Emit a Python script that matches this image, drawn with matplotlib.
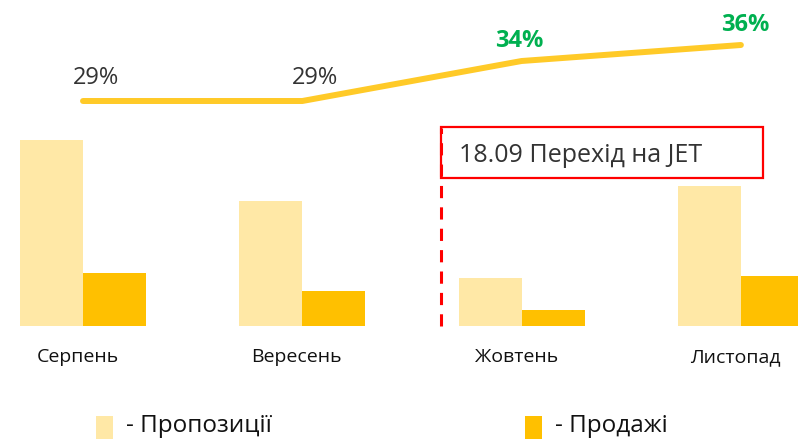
import matplotlib
matplotlib.use("Agg")
import matplotlib.pyplot as plt
from matplotlib.patches import Rectangle
import numpy as np

plt.rcParams['font.family'] = ['Open Sans', 'DejaVu Sans']

categories = ["Серпень", "Вересень", "Жовтень", "Листопад"]
proposals = [186, 125, 48, 140]
sales = [53, 35, 16, 50]
conversion = [29, 29, 34, 36]
conv_labels = ["29%", "29%", "34%", "36%"]
conv_colors = ["#333333", "#333333", "#00B050", "#00B050"]
conv_bold = [False, False, True, True]
legend_labels = ["- Пропозиції", "- Продажі"]
annotation = "18.09 Перехід на JET"

W, H = 798, 440
fig = plt.figure(figsize=(W / 100, H / 100), dpi=100)

base_px = 326  # baseline from top
ax = fig.add_axes([0, (H - base_px) / H, 1, base_px / H])
spacing = 219.3
c0 = 83
ax.set_xlim(-c0 / spacing, (W - c0) / spacing)
ax.set_ylim(0, base_px)
x = np.arange(len(categories))
bw = 63 / spacing
ax.bar(x - bw / 2, proposals, width=bw, color="#FFE8A6", linewidth=0)
ax.bar(x + bw / 2, sales, width=bw, color="#FFC000", linewidth=0)
for s in ax.spines.values():
    s.set_visible(False)
ax.set_yticks([])
ax.set_xticks(x - 0.025)
ax.set_xticklabels(categories, fontsize=14, color="#111111")
ax.tick_params(axis='x', length=0, pad=16)

ax2 = ax.twinx()
ax2.set_ylim(29 - 225 / 8, 29 + 101 / 8)
ax2.plot(x, conversion, color="#FFCA28", lw=4.3, solid_capstyle="round",
         solid_joinstyle="round")
ax2.set_yticks([])
for s in ax2.spines.values():
    s.set_visible(False)
offsets = [(9, 8), (9, 8), (-2, 5.5), (3, 5.5)]
for xi, v, lab, col, b, off in zip(x, conversion, conv_labels, conv_colors, conv_bold, offsets):
    ax2.annotate(lab, (xi, v), xytext=off, textcoords="offset points",
                 ha="center", va="bottom", fontsize=17,
                 color=col, fontweight="bold" if b else "normal")

# annotation: dashed red line and box
xi_line = (441 - c0) / spacing
ax.plot([xi_line, xi_line], [0, base_px - 128], color="#FF0000", lw=2.2,
        ls=(0, (4, 3)), clip_on=False)
fig.patches.append(Rectangle((441 / W, 1 - 178 / H), (763 - 441) / W, 51 / H,
                             transform=fig.transFigure, fill=False,
                             edgecolor="#FF0000", lw=1.6))
fig.text(459 / W, 1 - 155 / H, annotation, fontsize=18, color="#333333",
         ha="left", va="center")

# legend
legend_colors = ["#FFE8A6", "#FFC000"]
legend_x = [96, 525]
for lx, lc, lt in zip(legend_x, legend_colors, legend_labels):
    fig.patches.append(Rectangle((lx / W, 1 - 439 / H), 17 / W, 23 / H,
                                 transform=fig.transFigure, color=lc, lw=0))
    fig.text((lx + 30) / W, 1 - 426 / H, lt, fontsize=17.5, color="#111111",
             ha="left", va="center")

fig.savefig("out.png", dpi=100)
